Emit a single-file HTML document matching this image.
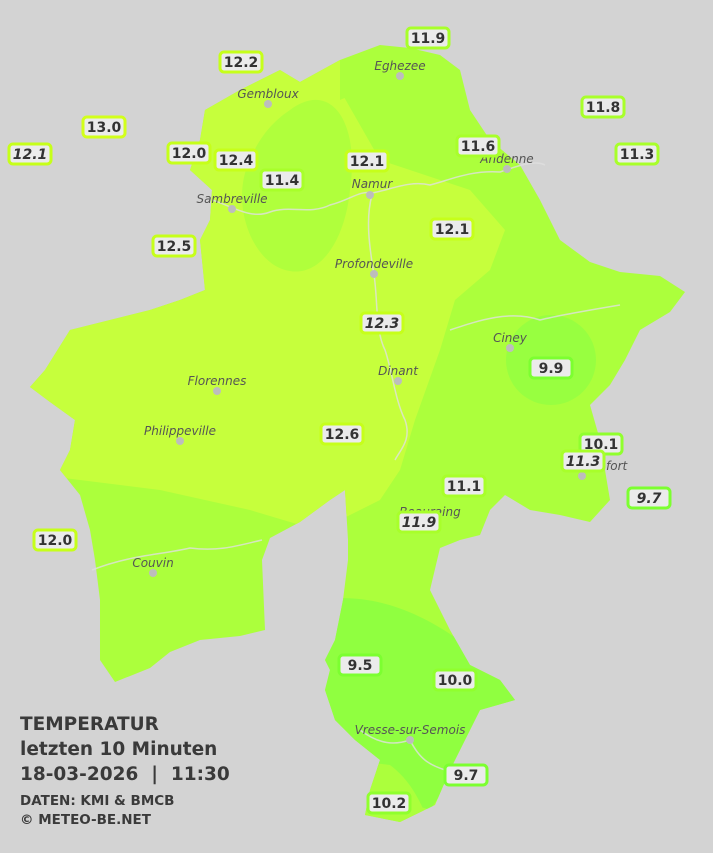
<!DOCTYPE html>
<html><head><meta charset="utf-8"><style>
html,body{margin:0;padding:0;background:#d3d3d3;}
svg{display:block;}
.c{font-family:"DejaVu Sans","Liberation Sans",sans-serif;font-style:italic;font-size:12px;fill:#555;text-anchor:middle;}
.l{font-family:"DejaVu Sans","Liberation Sans",sans-serif;font-weight:bold;font-size:14px;fill:#333;text-anchor:middle;}
.t{font-family:"DejaVu Sans","Liberation Sans",sans-serif;font-weight:bold;fill:#3a3a3a;}
</style></head><body>
<svg width="713" height="853" viewBox="0 0 713 853" xmlns="http://www.w3.org/2000/svg">
<rect width="713" height="853" fill="#d3d3d3"/>
<defs>
<clipPath id="prov"><path d="M340,60 L380,45 L410,48 L440,55 L460,70 L470,110 L490,140 L520,165 L540,200 L560,240 L590,262 L620,272 L660,276 L685,292 L670,312 L640,330 L625,360 L610,385 L590,405 L600,440 L605,470 L610,500 L590,522 L560,515 L530,510 L505,495 L490,510 L480,535 L460,540 L440,548 L430,590 L450,630 L470,665 L500,680 L515,700 L480,710 L465,740 L450,770 L435,805 L400,822 L365,815 L370,790 L380,760 L355,740 L335,720 L325,690 L330,670 L325,660 L335,640 L343,600 L348,560 L348,540 L345,490 L330,500 L300,522 L270,538 L262,560 L265,630 L240,636 L200,640 L170,652 L150,668 L115,682 L100,660 L100,600 L95,560 L90,530 L80,495 L60,470 L70,450 L75,420 L50,402 L30,387 L45,370 L70,330 L110,320 L150,310 L180,300 L205,290 L200,240 L210,220 L212,190 L190,170 L200,140 L205,110 L240,90 L280,70 L300,82 Z"/></clipPath>
</defs>
<g clip-path="url(#prov)">
<rect width="713" height="853" fill="#acff3c"/>
<path d="M0,0 L340,0 L340,90 L380,160 L470,190 L505,230 L490,270 L455,300 L440,350 L415,420 L400,470 L380,500 L340,520 L300,525 L250,510 L160,490 L80,480 L0,470 Z" fill="#c6ff3c"/>
<path d="M290,110 C330,80 360,120 350,190 C345,240 320,280 285,270 C250,260 230,200 250,160 C260,135 275,120 290,110 Z" fill="#b0ff3c"/>
<path d="M340,60 L340,100 C360,90 400,100 400,60 Z" fill="#acff3c"/>
<circle cx="551" cy="360" r="45" fill="#98ff40"/>
<path d="M320,600 C380,590 440,620 490,665 L530,700 L480,720 L450,780 L430,810 L400,800 L370,760 L330,730 L300,660 Z" fill="#90ff40"/>
<path d="M350,760 L390,765 C410,780 420,800 430,825 L340,830 Z" fill="#acff3c"/>
</g>
<g fill="none" stroke="#e0e0e0" stroke-width="1.5" opacity="0.8">
<path d="M212,200 C230,205 250,220 270,212 C290,205 310,215 330,205 C350,200 360,190 372,193 C390,190 410,180 430,185 C450,180 470,170 500,172 C520,165 535,160 545,165"/>
<path d="M372,195 C365,220 370,250 374,275 C378,300 375,330 385,350 C392,370 395,400 405,420 C412,440 400,450 395,460"/>
<path d="M450,330 C480,320 510,310 540,320 C560,315 590,310 620,305"/>
<path d="M92,570 C130,555 160,555 190,548 C220,552 240,545 262,540"/>
<path d="M360,730 C380,745 395,745 410,740 C420,760 430,765 445,770"/>
</g>
<g fill="#bdbdbd">
<circle cx="268" cy="104" r="4"/><circle cx="400" cy="76" r="4"/><circle cx="507" cy="169" r="4"/><circle cx="370" cy="195" r="4"/><circle cx="232" cy="209" r="4"/><circle cx="374" cy="274" r="4"/><circle cx="510" cy="348" r="4"/><circle cx="217" cy="391" r="4"/><circle cx="398" cy="381" r="4"/><circle cx="180" cy="441" r="4"/><circle cx="153" cy="573" r="4"/><circle cx="410" cy="740" r="4"/><circle cx="582" cy="476" r="4"/>
</g>
<g class="c">
<text x="268" y="98">Gembloux</text><text x="400" y="70">Eghezee</text><text x="507" y="163">Andenne</text><text x="372" y="188">Namur</text><text x="232" y="203">Sambreville</text><text x="374" y="268">Profondeville</text><text x="510" y="342">Ciney</text><text x="217" y="385">Florennes</text><text x="398" y="375">Dinant</text><text x="180" y="435">Philippeville</text><text x="153" y="567">Couvin</text><text x="410" y="734">Vresse-sur-Semois</text><text x="598" y="470">Rochefort</text><text x="430" y="516">Beauraing</text>
</g>
<g>
<g transform="translate(428,38)"><rect x="-21" y="-10" width="42" height="20" rx="4" fill="#ebebeb" stroke="#a8ff2a" stroke-width="3"/><text class="l" y="5">11.9</text></g>
<g transform="translate(241,62)"><rect x="-21" y="-10" width="42" height="20" rx="4" fill="#ebebeb" stroke="#c6ff1a" stroke-width="3"/><text class="l" y="5">12.2</text></g>
<g transform="translate(104,127)"><rect x="-21" y="-10" width="42" height="20" rx="4" fill="#ebebeb" stroke="#d2ff1a" stroke-width="3"/><text class="l" y="5">13.0</text></g>
<g transform="translate(30,154)"><rect x="-21" y="-10" width="42" height="20" rx="4" fill="#ebebeb" stroke="#c6ff1a" stroke-width="3"/><text class="l" y="5" font-style="italic">12.1</text></g>
<g transform="translate(189,153)"><rect x="-21" y="-10" width="42" height="20" rx="4" fill="#ebebeb" stroke="#c6ff1a" stroke-width="3"/><text class="l" y="5">12.0</text></g>
<g transform="translate(236,160)"><rect x="-21" y="-10" width="42" height="20" rx="4" fill="#ebebeb" stroke="#c6ff1a" stroke-width="3"/><text class="l" y="5">12.4</text></g>
<g transform="translate(282,180)"><rect x="-21" y="-10" width="42" height="20" rx="4" fill="#ebebeb" stroke="#a8ff2a" stroke-width="3"/><text class="l" y="5">11.4</text></g>
<g transform="translate(367,161)"><rect x="-21" y="-10" width="42" height="20" rx="4" fill="#ebebeb" stroke="#c6ff1a" stroke-width="3"/><text class="l" y="5">12.1</text></g>
<g transform="translate(478,146)"><rect x="-21" y="-10" width="42" height="20" rx="4" fill="#ebebeb" stroke="#a8ff2a" stroke-width="3"/><text class="l" y="5">11.6</text></g>
<g transform="translate(603,107)"><rect x="-21" y="-10" width="42" height="20" rx="4" fill="#ebebeb" stroke="#a8ff2a" stroke-width="3"/><text class="l" y="5">11.8</text></g>
<g transform="translate(637,154)"><rect x="-21" y="-10" width="42" height="20" rx="4" fill="#ebebeb" stroke="#a8ff2a" stroke-width="3"/><text class="l" y="5">11.3</text></g>
<g transform="translate(174,246)"><rect x="-21" y="-10" width="42" height="20" rx="4" fill="#ebebeb" stroke="#c6ff1a" stroke-width="3"/><text class="l" y="5">12.5</text></g>
<g transform="translate(452,229)"><rect x="-21" y="-10" width="42" height="20" rx="4" fill="#ebebeb" stroke="#c6ff1a" stroke-width="3"/><text class="l" y="5">12.1</text></g>
<g transform="translate(382,323)"><rect x="-21" y="-10" width="42" height="20" rx="4" fill="#ebebeb" stroke="#c6ff1a" stroke-width="3"/><text class="l" y="5" font-style="italic">12.3</text></g>
<g transform="translate(551,368)"><rect x="-21" y="-10" width="42" height="20" rx="4" fill="#ebebeb" stroke="#7cff30" stroke-width="3"/><text class="l" y="5">9.9</text></g>
<g transform="translate(342,434)"><rect x="-21" y="-10" width="42" height="20" rx="4" fill="#ebebeb" stroke="#c6ff1a" stroke-width="3"/><text class="l" y="5">12.6</text></g>
<g transform="translate(601,444)"><rect x="-21" y="-10" width="42" height="20" rx="4" fill="#ebebeb" stroke="#90ff2e" stroke-width="3"/><text class="l" y="5">10.1</text></g>
<g transform="translate(583,461)"><rect x="-21" y="-10" width="42" height="20" rx="4" fill="#ebebeb" stroke="#a8ff2a" stroke-width="3"/><text class="l" y="5" font-style="italic">11.3</text></g>
<g transform="translate(464,486)"><rect x="-21" y="-10" width="42" height="20" rx="4" fill="#ebebeb" stroke="#a8ff2a" stroke-width="3"/><text class="l" y="5">11.1</text></g>
<g transform="translate(649,498)"><rect x="-21" y="-10" width="42" height="20" rx="4" fill="#ebebeb" stroke="#7cff30" stroke-width="3"/><text class="l" y="5" font-style="italic">9.7</text></g>
<g transform="translate(419,522)"><rect x="-21" y="-10" width="42" height="20" rx="4" fill="#ebebeb" stroke="#a8ff2a" stroke-width="3"/><text class="l" y="5" font-style="italic">11.9</text></g>
<g transform="translate(55,540)"><rect x="-21" y="-10" width="42" height="20" rx="4" fill="#ebebeb" stroke="#c6ff1a" stroke-width="3"/><text class="l" y="5">12.0</text></g>
<g transform="translate(360,665)"><rect x="-21" y="-10" width="42" height="20" rx="4" fill="#ebebeb" stroke="#7cff30" stroke-width="3"/><text class="l" y="5">9.5</text></g>
<g transform="translate(455,680)"><rect x="-21" y="-10" width="42" height="20" rx="4" fill="#ebebeb" stroke="#90ff2e" stroke-width="3"/><text class="l" y="5">10.0</text></g>
<g transform="translate(466,775)"><rect x="-21" y="-10" width="42" height="20" rx="4" fill="#ebebeb" stroke="#7cff30" stroke-width="3"/><text class="l" y="5">9.7</text></g>
<g transform="translate(389,803)"><rect x="-21" y="-10" width="42" height="20" rx="4" fill="#ebebeb" stroke="#90ff2e" stroke-width="3"/><text class="l" y="5">10.2</text></g>
</g>
<text class="t" x="20" y="730" font-size="18.5">TEMPERATUR</text>
<text class="t" x="20" y="755" font-size="18.5">letzten 10 Minuten</text>
<text class="t" x="20" y="780" font-size="18.5">18-03-2026&#160;&#160;|&#160;&#160;11:30</text>
<text class="t" x="20" y="805" font-size="13.5">DATEN: KMI &amp; BMCB</text>
<text class="t" x="20" y="824" font-size="13.5">© METEO-BE.NET</text>
</svg>
</body></html>
